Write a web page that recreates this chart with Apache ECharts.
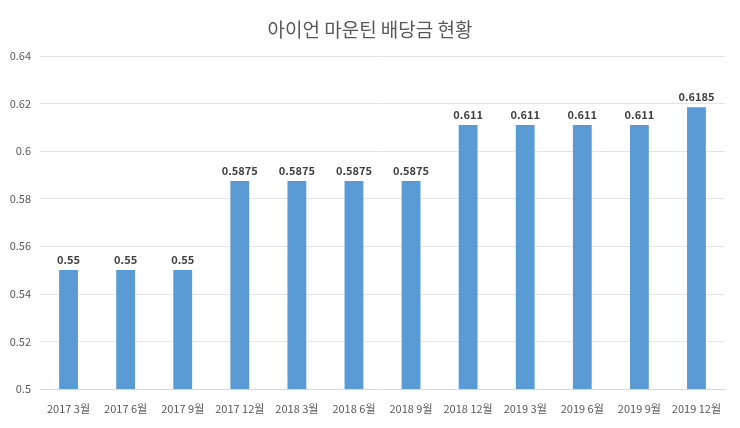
<!DOCTYPE html>
<html>
<head>
<meta charset="utf-8">
<script src="https://cdn.jsdelivr.net/npm/echarts@6/dist/echarts.min.js"></script>
<style>html,body{margin:0;padding:0;background:#fff}#c{width:740px;height:428px}</style>
</head>
<body>
<div id="c"></div>
<script>
const categories = ['2017 3월','2017 6월','2017 9월','2017 12월','2018 3월','2018 6월','2018 9월','2018 12월','2019 3월','2019 6월','2019 9월','2019 12월'];
const dividends = [0.55,0.55,0.55,0.5875,0.5875,0.5875,0.5875,0.611,0.611,0.611,0.611,0.6185];
const titleText = '아이언 마운틴 배당금 현황';
const FONT = '"Noto Sans CJK KR", "Noto Sans", sans-serif';
const chart = echarts.init(document.getElementById('c'));
chart.setOption({
  animation: false,
  textStyle: { fontFamily: FONT },
  title: { text: titleText, left: 'center', top: 15, textStyle: { fontFamily: FONT, fontSize: 19, fontWeight: 'normal', color: '#595959' } },
  grid: { left: 40, right: 15, top: 56, bottom: 39, containLabel: false },
  xAxis: {
    type: 'category', data: categories,
    axisLine: { lineStyle: { color: '#d9d9d9' } },
    axisTick: { show: false },
    axisLabel: { color: '#595959', fontSize: 11, margin: 14, fontFamily: FONT, interval: 0 }
  },
  yAxis: {
    type: 'value', min: 0.5, max: 0.64, interval: 0.02,
    axisLine: { show: false }, axisTick: { show: false },
    splitLine: { lineStyle: { color: '#e6e6e6' } },
    axisLabel: { color: '#595959', fontSize: 11, margin: 9, fontFamily: FONT, formatter: v => String(+v.toFixed(4)) }
  },
  series: [{
    type: 'bar', data: dividends, barWidth: '33%',
    itemStyle: { color: '#5b9bd5' },
    label: { show: true, position: 'top', distance: 5, color: '#404040', fontWeight: 'bold', fontSize: 11, fontFamily: FONT }
  }]
});
</script>
</body>
</html>
